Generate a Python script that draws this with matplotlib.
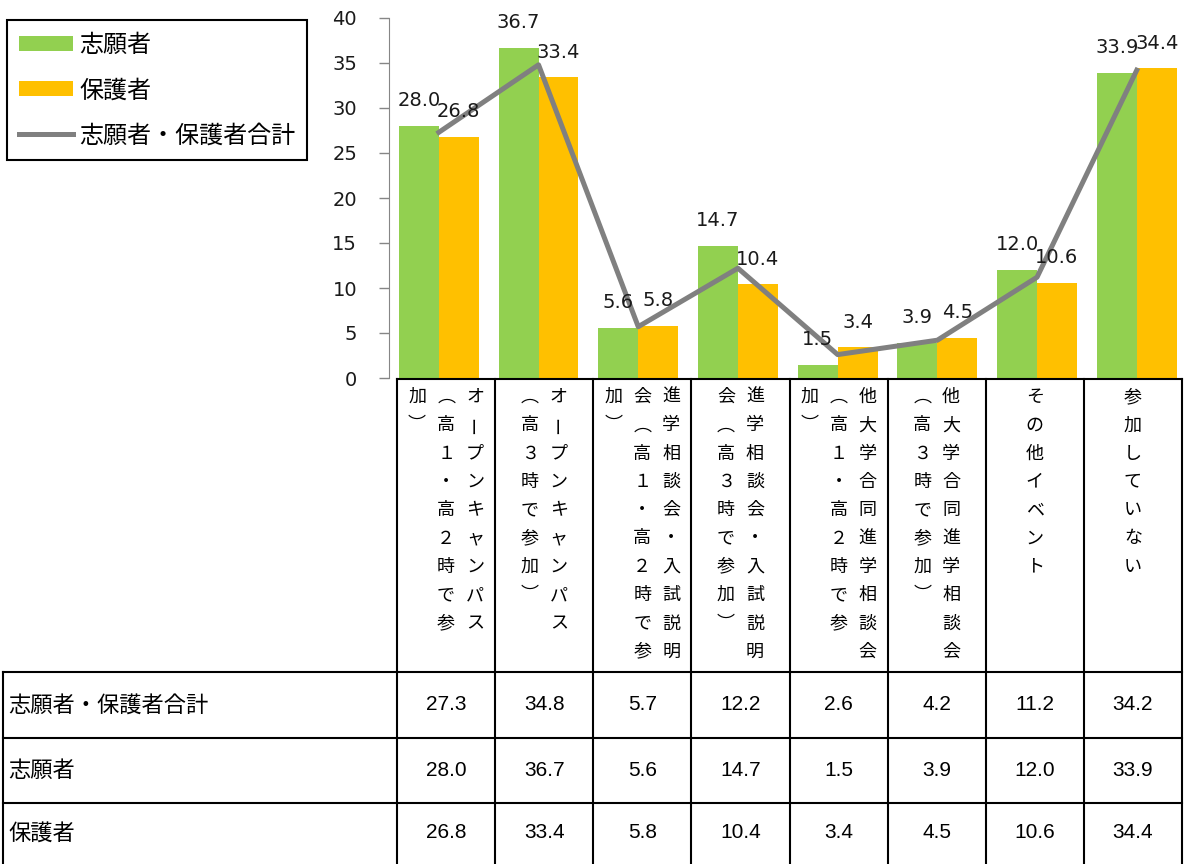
import matplotlib.pyplot as plt
import numpy as np
from matplotlib.lines import Line2D

# data
categories = [
    "オープンキャンパス\n（高１・高２時で参\n加）",
    "オープンキャンパス\n（高３時で参加）",
    "進学相談会・入試説明\n会（高１・高２時で参\n加）",
    "進学相談会・入試説明\n会（高３時で参加）",
    "他大学合同進学相談会\n（高１・高２時で参\n加）",
    "他大学合同進学相談会\n（高３時で参加）",
    "その他イベント",
    "参加していない",
]
applicants = [28.0, 36.7, 5.6, 14.7, 1.5, 3.9, 12.0, 33.9]
guardians = [26.8, 33.4, 5.8, 10.4, 3.4, 4.5, 10.6, 34.4]
total = [27.3, 34.8, 5.7, 12.2, 2.6, 4.2, 11.2, 34.2]
series_names = ["志願者", "保護者", "志願者・保護者合計"]

GREEN = "#92D050"
ORANGE = "#FFC000"
GRAY = "#808080"
CJK = "Noto Sans CJK JP"

plt.rcParams['font.family'] = ['DejaVu Sans', CJK]

W, H = 1195, 864
fig = plt.figure(figsize=(W / 100, H / 100), dpi=100)


def fx(x):
    return x / W


def fy(y):
    return 1 - y / H


ax = fig.add_axes([fx(389), fy(378), 797.6 / W, 360 / H])
x = np.arange(len(categories))
b1 = ax.bar(x - 0.2, applicants, 0.4, color=GREEN, zorder=2)
b2 = ax.bar(x + 0.2, guardians, 0.4, color=ORANGE, zorder=2)
ln, = ax.plot(x, total, color=GRAY, lw=3.6, zorder=3)

for xi, v in zip(x - 0.2, applicants):
    ax.annotate(f"{v:.1f}", (xi, v), xytext=(0, 18), textcoords='offset points',
                ha='center', va='center', fontsize=14, color='#1a1a1a', zorder=4)
for xi, v in zip(x + 0.2, guardians):
    ax.annotate(f"{v:.1f}", (xi, v), xytext=(0, 18), textcoords='offset points',
                ha='center', va='center', fontsize=14, color='#1a1a1a', zorder=4)

ax.set_xlim(-0.5, 7.5)
ax.set_ylim(0, 40)
ax.set_yticks(np.arange(0, 41, 5))
ax.set_xticks([])
ax.tick_params(axis='y', direction='out', length=7, width=1, color='#868686',
               labelsize=14, pad=16, labelcolor='#1a1a1a')
for s in ['top', 'right', 'bottom']:
    ax.spines[s].set_visible(False)
ax.spines['left'].set_color('#868686')

leg = fig.legend(handles=[b1, b2, ln], labels=series_names, loc='upper left',
                 bbox_to_anchor=(fx(7), fy(20)), bbox_transform=fig.transFigure,
                 prop={'family': CJK, 'size': 17.3}, frameon=True, fancybox=False,
                 edgecolor='black', framealpha=1, borderaxespad=0,
                 handlelength=2.25, handleheight=0.6, handletextpad=0.25,
                 labelspacing=0.8, borderpad=0.5)
leg.get_frame().set_linewidth(1.5)

# data table under the chart
col_edges = np.linspace(397, 1182, len(categories) + 1)
col_centers = (col_edges[:-1] + col_edges[1:]) / 2
row_lines = [672, 738, 803]
row_centers = [705, 770, 833]
lw = 1.5


def hline(y, x0, x1):
    fig.add_artist(Line2D([fx(x0), fx(x1)], [fy(y), fy(y)], color='black', lw=lw))


def vline(xp, y0, y1):
    fig.add_artist(Line2D([fx(xp), fx(xp)], [fy(y0), fy(y1)], color='black', lw=lw))


hline(379, col_edges[0], col_edges[-1])
for y in row_lines:
    hline(y, 3, col_edges[-1])
for e in col_edges:
    vline(e, 379, H)
vline(3, 672, H)

# vertical category labels (columns right to left)
vert = {"（": "︵", "）": "︶"}
for k, label in enumerate(categories):
    cols = label.split("\n")
    n = len(cols)
    for j, col in enumerate(cols):
        cx = col_centers[k] + (n - 1) / 2 * 29 - j * 29
        for i, ch in enumerate(col):
            rot = 90 if ch == "ー" else 0
            fig.text(fx(cx), fy(397 + i * 28.3), vert.get(ch, ch), ha='center', va='center',
                     family=CJK, fontsize=13, rotation=rot, color='black')

table_rows = [total, applicants, guardians]
row_labels = ["志願者・保護者合計", "志願者", "保護者"]
for r, (lab, vals) in enumerate(zip(row_labels, table_rows)):
    fig.text(fx(8), fy(row_centers[r]), lab, ha='left', va='center',
             family=CJK, fontsize=16, color='black')
    for c, v in enumerate(vals):
        fig.text(fx(col_centers[c]), fy(row_centers[r]), f"{v:.1f}", ha='center', va='center',
                 family='Liberation Sans', fontsize=15, color='black')

fig.savefig("out.png", dpi=100)
